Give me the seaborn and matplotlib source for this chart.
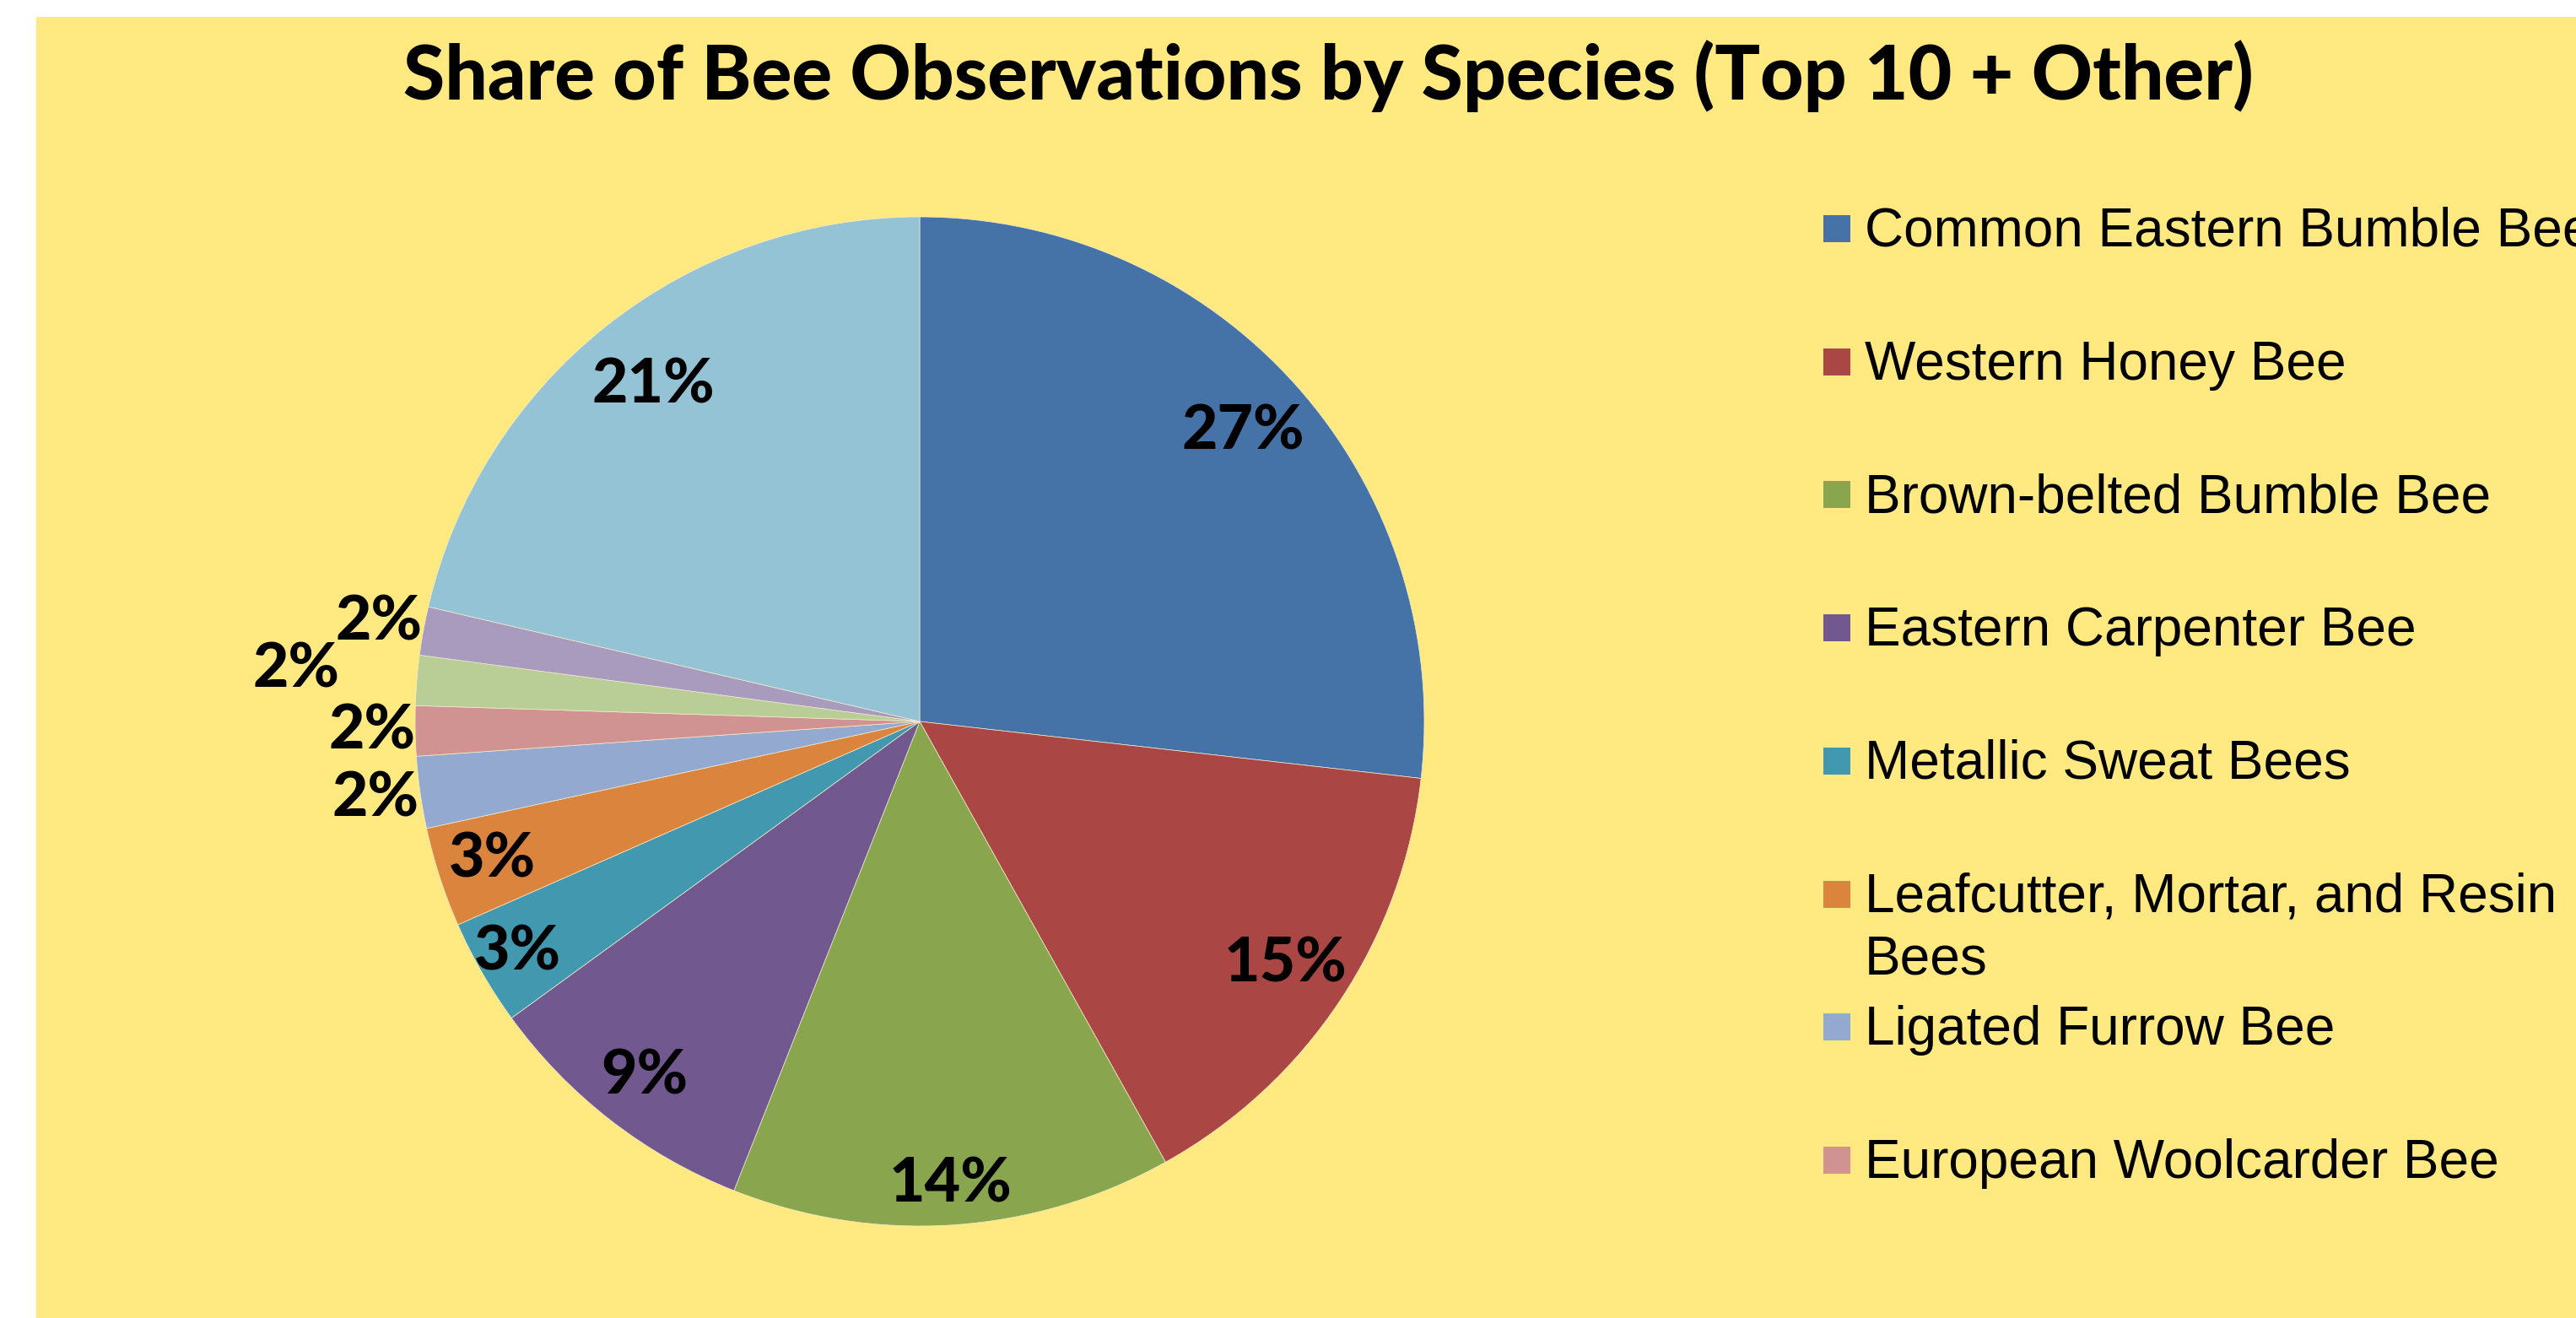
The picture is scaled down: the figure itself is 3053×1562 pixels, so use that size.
import matplotlib
matplotlib.use("Agg")
import matplotlib.pyplot as plt
from matplotlib.patches import Rectangle
from matplotlib import font_manager
import seaborn as sns
import numpy as np

# ---------------- data ----------------
species = [
    "Common Eastern Bumble Bee",
    "Western Honey Bee",
    "Brown-belted Bumble Bee",
    "Eastern Carpenter Bee",
    "Metallic Sweat Bees",
    "Leafcutter, Mortar, and Resin\nBees",
    "Ligated Furrow Bee",
    "European Woolcarder Bee",
    "Unlisted species 9",
    "Unlisted species 10",
    "Other",
]
share_pct = [26.8, 15.1, 14.1, 9.0, 3.4, 3.2, 2.3, 1.6, 1.6, 1.55, 21.35]
title_text = "Share of Bee Observations by Species (Top 10 + Other)"

# ---------------- style ----------------
colors = ["#4673A7", "#AA4644", "#89A54E", "#71588F", "#4198AF", "#DB843D",
          "#93A9CF", "#D19392", "#B9CD96", "#A99BBD", "#93C3D4"]
label_dist = [0.86, 0.87, 0.92, 0.89, 0.92, 0.89, 1.09, 1.085, 1.24, 1.09, 0.85]
legend_visible = 8
BG = "#FFE980"

# pick the heaviest available sans for title / labels
heavy_family, heavy_weight = "DejaVu Sans", "bold"
for fam in ["Montserrat", "Lato", "Open Sans", "Roboto", "Inter", "Noto Sans"]:
    ws = [f.weight for f in font_manager.fontManager.ttflist
          if f.name == fam and isinstance(f.weight, int)]
    if ws and max(ws) >= 800:
        heavy_family, heavy_weight = fam, max(ws)
        break
HEAVY = [heavy_family, "DejaVu Sans"]

W, H = 3053, 1562
sns.set_theme(style="white")
plt.rcParams["font.family"] = ["Lato", "DejaVu Sans"]
palette = sns.color_palette(colors)

fig = plt.figure(figsize=(W / 100, H / 100), dpi=100, facecolor="white")

def fx(px):
    return px / W

def fy(py):
    return 1 - py / H

# yellow chart area
fig.patches.append(Rectangle((fx(43), 0), 1 - fx(43), fy(20), transform=fig.transFigure,
                             facecolor=BG, edgecolor="none", zorder=-10))

# pie axes: center (1090, 855), radius 598 px
cx, cy, R = 1090, 855, 598
ax = fig.add_axes([fx(cx - R), fy(cy + R), 2 * R / W, 2 * R / H])
ax.set_zorder(2)
ax.set_facecolor("none")

wedges, _ = ax.pie(share_pct, colors=palette, startangle=90, counterclock=False,
                   wedgeprops=dict(linewidth=0.5, edgecolor="#f3ecd0"))
ax.set_xlim(-1, 1)
ax.set_ylim(-1, 1)
ax.set_aspect("equal")
ax.axis("off")

# fit label font size so that "27%" is ~146 px wide
probe = fig.text(0, 0, "27%", fontsize=50, fontweight=heavy_weight, family=HEAVY)
fig.canvas.draw()
lab_fs = 50 * 146 / probe.get_window_extent().width
probe.remove()

total = sum(share_pct)
for w, v, d in zip(wedges, share_pct, label_dist):
    mid = np.deg2rad((w.theta1 + w.theta2) / 2)
    ax.text(d * np.cos(mid), d * np.sin(mid), f"{round(100 * v / total):d}%",
            ha="center", va="center", fontsize=lab_fs, fontweight=heavy_weight,
            family=HEAVY, color="black")

# title
t = fig.text(fx(1574), fy(118), title_text, ha="center", va="baseline",
             fontsize=62, fontweight=heavy_weight, family=HEAVY, color="black")
fig.canvas.draw()
bb = t.get_window_extent()
t.set_fontsize(62 * 2194 / bb.width)

# legend (Excel-like, clipped at the chart edge)
y0, dy, line_gap = 271, 157.7, 74
for i in range(legend_visible):
    yc = y0 + i * dy
    fig.patches.append(Rectangle((fx(2161), fy(yc + 16)), 32 / W, 32 / H,
                                 transform=fig.transFigure, facecolor=palette[i],
                                 edgecolor="none"))
    for k, line in enumerate(species[i].split("\n")):
        fig.text(fx(2210), fy(yc + 21 + k * line_gap), line, ha="left", va="baseline",
                 fontsize=46, family=["Liberation Sans", "DejaVu Sans"], color="black")

fig.savefig("out.png", dpi=100, facecolor="white")
